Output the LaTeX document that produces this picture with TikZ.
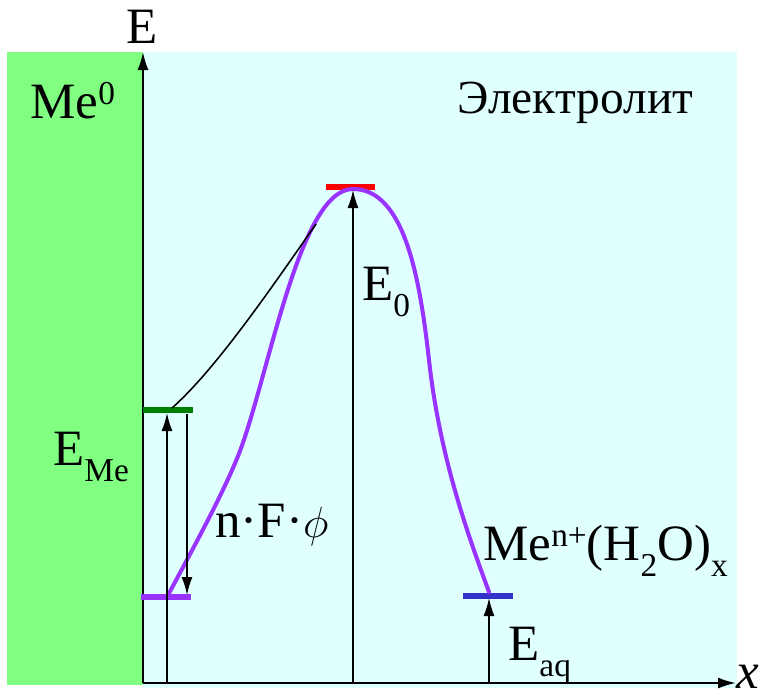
\documentclass[tikz,border=0pt]{standalone}
\usepackage{fontspec}
\setmainfont{Liberation Serif}
\usetikzlibrary{arrows.meta}
\definecolor{metal}{HTML}{80FF80}
\definecolor{solution}{HTML}{E0FFFF}
\definecolor{barrier}{HTML}{9933FF}
\definecolor{melevel}{HTML}{008000}
\definecolor{aqlevel}{HTML}{3333CC}
\newcommand{\lsub}[1]{\raisebox{-0.33em}{\fontsize{19}{22}\selectfont #1}}
\newcommand{\lsup}[1]{\raisebox{0.27em}{\fontsize{19}{22}\selectfont #1}}

\begin{document}
\begin{tikzpicture}[x=0.02cm,y=-0.02cm,
  big/.style={font=\rmfamily\fontsize{29}{34}\selectfont,inner sep=0pt,anchor=base west},
  level/.style={line width=3.4pt},
  axis/.style={line width=1.1pt,-{Latex[length=3.6mm,width=2.2mm]}},
  gap/.style={line width=0.9pt,-{Latex[length=3.6mm,width=2.2mm]}}]

\useasboundingbox (0,0) rectangle (769,698);
\fill[metal] (7,52) rectangle (143,685);
\fill[solution] (143,52) rectangle (737,688);

% axes
\coordinate (O) at (143,683);
\coordinate (Etop) at (143,52);
\coordinate (xend) at (736,683);
\draw[axis] (O) -- (Etop);
\draw[axis] (O) -- (xend);
\node[font=\rmfamily\fontsize{29}{34}\selectfont,inner sep=0pt] (Elab) at (142,27) {E};
\node[big] (xlab) at (736,688) {\textit{x}};

% levels
\coordinate (meL) at (143,410); \coordinate (meR) at (193,410);
\coordinate (ptL) at (141,597); \coordinate (ptR) at (191,597);
\coordinate (tsL) at (326,187); \coordinate (tsR) at (375,187);
\coordinate (aqL) at (463,596); \coordinate (aqR) at (513,596);
\draw[level,melevel] (meL) -- (meR);
\draw[level,barrier] (ptL) -- (ptR);
\draw[level,red] (tsL) -- (tsR);
\draw[level,aqlevel] (aqL) -- (aqR);

% curves
\coordinate (cstart) at (167,597);
\coordinate (cleft) at (240,451);
\coordinate (cpeak) at (353,189);
\coordinate (cright) at (429,360);
\coordinate (cend) at (489,592);
\draw[barrier,line width=2.3pt,line cap=round]
  (cstart) .. controls (195,545) and (225,490) .. (cleft)
  .. controls (270,370) and (300,189) .. (cpeak)
  .. controls (405,189) and (420,280) .. (cright)
  .. controls (440,460) and (470,540) .. (cend);
\coordinate (bstart) at (172,408);
\coordinate (bend) at (316,224);
\draw[line width=0.9pt] (bstart) .. controls (215,370) and (270,290) .. (bend);

% arrows
\coordinate (a1b) at (167,683); \coordinate (a1t) at (167,413);
\coordinate (a2t) at (187,414); \coordinate (a2b) at (187,595);
\coordinate (a3b) at (353,683); \coordinate (a3t) at (353,190);
\coordinate (a4b) at (489,683); \coordinate (a4t) at (489,598);
\draw[gap] (a1b) -- (a1t);
\draw[gap] (a2t) -- (a2b);
\draw[gap] (a3b) -- (a3t);
\draw[gap] (a4b) -- (a4t);

% labels
\node[big] (metal) at (30,118) {Me\lsup{0}};
\node[font=\rmfamily\fontsize{27}{32}\selectfont,inner sep=0pt,anchor=base west] (elyt) at (457,113) {Электролит};
\node[big] (eme) at (53,465) {E\lsub{Me}};
\node[big] (work) at (215,537) {n·F·$\phi$};
\node[big] (ezero) at (362,300) {E\lsub{0}};
\node[big] (ion) at (483,560) {Me\lsup{n+}(H\lsub{2}O)\lsub{x}};
\node[big] (eaq) at (508,660) {E\lsub{aq}};
\end{tikzpicture}
\end{document}
